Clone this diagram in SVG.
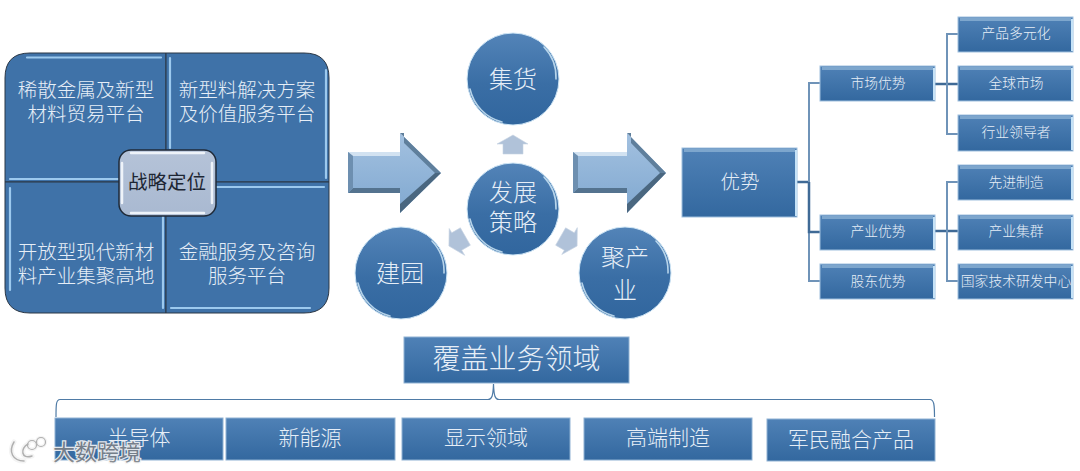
<svg xmlns="http://www.w3.org/2000/svg" width="1080" height="471" viewBox="0 0 1080 471">
<style>
text{font-family:"Noto Sans CJK SC","Noto Sans",sans-serif;font-weight:300;fill:#e6eef7;text-anchor:middle;dominant-baseline:central}
.t14{font-size:13.800px}.t20{font-size:19.500px}.t21{font-size:21px}.t24{font-size:24px}.t28{font-size:28px}
.box{fill:url(#boxGrad);stroke:#9fc0de;stroke-width:1}
.flat{fill:url(#boxGrad);stroke:#8fb2d3;stroke-width:1}
.top{stroke:#7da6cd;stroke-width:3;fill:none}
.side{stroke:#c5e2f7;stroke-width:2;fill:none}
.quad{fill:#3f72a8;stroke:#2a3644;stroke-width:1}
.glow{stroke:#9cc9ee;stroke-width:2.200;fill:none;stroke-linecap:round}
.circ{fill:url(#circGrad);stroke:#cfe6f6;stroke-width:1}
.rim{fill:none;stroke:#d5ecfa;stroke-width:1.600;stroke-linecap:round;opacity:.8}
.link{fill:none;stroke:#6f93b8;stroke-width:2}
.stem{fill:none;stroke:#3f6a96;stroke-width:2.500}
.small{fill:#b0c2d9;stroke:#c7d3e3;stroke-width:.6}
.big{fill:url(#arrowGrad)}
</style>
<defs>
<linearGradient id="boxGrad" x1="0" y1="0" x2="0" y2="1"><stop offset="0" stop-color="#4f81b6"/><stop offset="1" stop-color="#33689f"/></linearGradient>
<linearGradient id="circGrad" x1="0" y1="0" x2="0" y2="1"><stop offset="0" stop-color="#5384b8"/><stop offset=".55" stop-color="#3a6ea5"/><stop offset="1" stop-color="#31669e"/></linearGradient>
<linearGradient id="arrowGrad" x1="0" y1="0" x2="0" y2="1"><stop offset="0" stop-color="#a3c1e0"/><stop offset="1" stop-color="#80a8d0"/></linearGradient>
<linearGradient id="centerGrad" x1="0" y1="0" x2="0" y2="1"><stop offset="0" stop-color="#b5c3d8"/><stop offset="1" stop-color="#a9b9d1"/></linearGradient>
</defs>

<g id="connectors">
<path class="stem" d="M797 182H809"/>
<path class="link" d="M809 182V83H820M809 182V281H820M809 232H820"/>
<path class="stem" d="M809 182V232H820"/>
<path class="stem" d="M935 84H958"/>
<path class="link" d="M947 84V34H958M947 84V134H958"/>
<path class="stem" d="M935 231H958"/>
<path class="link" d="M947 231V182H958M947 231V281H958"/>
<path fill="none" stroke="#4f7ba6" stroke-width="1.200" d="M56 417C56 405 56 399.500 60 399.500H488C492 399.500 493 396 493.500 384C494 396 495 399.500 499 399.500H930C934 399.500 934.500 405 934.500 417"/>
</g>

<g id="strategy-panel">
<path class="quad" d="M166 53H30Q5 53 5 78V182H166Z"/>
<path class="quad" d="M166 53H304Q329 53 329 78V182H166Z"/>
<path class="quad" d="M5 182H166V313H30Q5 313 5 288Z"/>
<path class="quad" d="M329 182H166V313H304Q329 313 329 288Z"/>
<path class="glow" d="M27 57.500H161M170 58V148M326 70V178M10 179H118M217 187H324M10 188V290M163 190V308M171 308H310"/>
<text class="t20" x="86" y="88.500">稀散金属及新型<tspan x="86" dy="23">材料贸易平台</tspan></text>
<text class="t20" x="247" y="88.500">新型料解决方案<tspan x="247" dy="23">及价值服务平台</tspan></text>
<text class="t20" x="86" y="250.500">开放型现代新材<tspan x="86" dy="23">料产业集聚高地</tspan></text>
<text class="t20" x="247" y="250.500">金融服务及咨询<tspan x="247" dy="23">服务平台</tspan></text>
</g>
<g id="strategy-center">
<rect x="119" y="150" width="97" height="66" rx="12" fill="url(#centerGrad)" stroke="#1f2a38" stroke-width="1.500"/>
<path fill="none" stroke="#eef3f9" stroke-width="2.500" stroke-linecap="round" d="M131 153H204M122 163V203M212 163V203M131 213H204"/>
<text x="167" y="180.500" style="font-size:19.500px;fill:#1d2633;font-weight:400">战略定位</text>
</g>

<g id="arrow-left">
<path class="big" d="M348 152H400V133L441 173L400 213V193H348Z"/>
<path fill="#d2e2f1" d="M348 152H400V156H353Z"/>
<path fill="#5f7f9c" d="M400 133L441 173L435 173L404 143V133Z"/>
<path fill="#4a6780" d="M441 173L400 213V204L435 173Z"/>
<path fill="#54738f" d="M348 193H400V188H353Z"/>
<path fill="#6d8fb0" d="M348 152L353 156V188L348 193Z"/>
</g>
<g id="arrow-right">
<path class="big" d="M573 152H627V133L666 173L627 213V193H573Z"/>
<path fill="#d2e2f1" d="M573 152H627V156H578Z"/>
<path fill="#5f7f9c" d="M627 133L666 173L660 173L631 143V133Z"/>
<path fill="#4a6780" d="M666 173L627 213V204L660 173Z"/>
<path fill="#54738f" d="M573 193H627V188H578Z"/>
<path fill="#6d8fb0" d="M573 152L578 156V188L573 193Z"/>
</g>

<g id="small-arrows">
<path class="small" d="M513 135L528 144H523V154H503V144H497Z"/>
<path class="small" d="M513 135L528 144H523V154H503V144H497Z" transform="rotate(-120 513 209)"/>
<path class="small" d="M513 135L528 144H523V154H503V144H497Z" transform="rotate(120 513 209)"/>
</g>

<g id="node-jihuo"><circle class="circ" cx="513" cy="79" r="46"/><path class="rim" d="M470 89A44 44 0 0 0 502 122"/><path class="rim" d="M544 47A44 44 0 0 1 556 79"/><text class="t24" x="513" y="77">集货</text></g>
<g id="node-fazhan"><circle class="circ" cx="513" cy="209" r="46"/><path class="rim" d="M470 219A44 44 0 0 0 502 252"/><path class="rim" d="M544 177A44 44 0 0 1 556 209"/><text class="t24" x="513" y="190">发展<tspan x="513" dy="30">策略</tspan></text></g>
<g id="node-jianyuan"><circle class="circ" cx="401" cy="273" r="46"/><path class="rim" d="M358 283A44 44 0 0 0 390 316"/><path class="rim" d="M432 241A44 44 0 0 1 444 273"/><text class="t24" x="400" y="271">建园</text></g>
<g id="node-juchanye"><circle class="circ" cx="625" cy="273" r="46"/><path class="rim" d="M582 283A44 44 0 0 0 614 316"/><path class="rim" d="M656 241A44 44 0 0 1 668 273"/><text class="t24" x="625" y="255">聚产<tspan x="625" dy="33">业</tspan></text></g>

<g id="node-youshi"><rect class="box" x="682" y="148" width="115" height="69"/><path class="top" d="M684 150.500H795"/><path class="side" d="M796 150V216"/><text class="t20" x="740" y="180.500">优势</text></g>
<g id="node-market"><rect class="box" x="820" y="66" width="115" height="35"/><path class="top" d="M822 68.500H933"/><path class="side" d="M934 68V100"/><text class="t14" x="878" y="82">市场优势</text></g>
<g id="node-industry"><rect class="box" x="820" y="215" width="115" height="35"/><path class="top" d="M822 217.500H933"/><path class="side" d="M934 217V249"/><text class="t14" x="878" y="230">产业优势</text></g>
<g id="node-holder"><rect class="box" x="820" y="264" width="115" height="35"/><path class="top" d="M822 266.500H933"/><path class="side" d="M934 266V298"/><text class="t14" x="878" y="280">股东优势</text></g>
<g id="node-a1"><rect class="box" x="958" y="17" width="115" height="35"/><path class="top" d="M960 19.500H1071"/><path class="side" d="M1072 19V51"/><text class="t14" x="1016" y="32">产品多元化</text></g>
<g id="node-a2"><rect class="box" x="958" y="66" width="115" height="35"/><path class="top" d="M960 68.500H1071"/><path class="side" d="M1072 68V100"/><text class="t14" x="1016" y="82">全球市场</text></g>
<g id="node-a3"><rect class="box" x="958" y="115" width="115" height="36"/><path class="top" d="M960 117.500H1071"/><path class="side" d="M1072 117V150"/><text class="t14" x="1016" y="131">行业领导者</text></g>
<g id="node-b1"><rect class="box" x="958" y="165" width="115" height="35"/><path class="top" d="M960 167.500H1071"/><path class="side" d="M1072 167V199"/><text class="t14" x="1016" y="181">先进制造</text></g>
<g id="node-b2"><rect class="box" x="958" y="215" width="115" height="35"/><path class="top" d="M960 217.500H1071"/><path class="side" d="M1072 217V249"/><text class="t14" x="1016" y="230">产业集群</text></g>
<g id="node-b3"><rect class="box" x="958" y="264" width="115" height="35"/><path class="top" d="M960 266.500H1071"/><path class="side" d="M1072 266V298"/><text class="t14" x="1016" y="280">国家技术研发中心</text></g>

<g id="node-cover"><rect class="flat" x="404" y="337" width="225" height="46"/><text class="t28" x="516.500" y="357">覆盖业务领域</text></g>
<g id="node-c1"><rect class="flat" x="55" y="418" width="168" height="42"/><text class="t21" x="139" y="436">半导体</text></g>
<g id="node-c2"><rect class="flat" x="226" y="418" width="169" height="42"/><text class="t21" x="310" y="436">新能源</text></g>
<g id="node-c3"><rect class="flat" x="402" y="418" width="168" height="42"/><text class="t21" x="486" y="436">显示领域</text></g>
<g id="node-c4"><rect class="flat" x="584" y="418" width="168" height="42"/><text class="t21" x="668" y="436">高端制造</text></g>
<g id="node-c5"><rect class="flat" x="767" y="419" width="168" height="42"/><text class="t21" x="851" y="438">军民融合产品</text></g>

<g id="watermark">
<path fill="none" stroke="#f4f4f4" stroke-width="5" stroke-linecap="round" d="M14 442C8 452 13 461 24 461M28 444C20 448 21 460 32 456"/>
<circle cx="32" cy="445" r="4.500" fill="none" stroke="#f4f4f4" stroke-width="4"/>
<circle cx="41" cy="442" r="4.500" fill="none" stroke="#f4f4f4" stroke-width="3.500"/>
<path fill="none" stroke="#b0b0b0" stroke-width="1.500" stroke-linecap="round" d="M14 442C8 452 13 461 24 461M28 444C20 448 21 460 32 456"/>
<circle cx="32" cy="445" r="4.500" fill="none" stroke="#b0b0b0" stroke-width="1.200"/>
<circle cx="41" cy="442" r="4.500" fill="none" stroke="#b0b0b0" stroke-width="1.200"/>
<text x="97" y="450" style="font-size:22px;font-weight:400;fill:#7b8087;stroke:#f4f4f4;stroke-width:2.500;paint-order:stroke;opacity:.9">大数跨境</text>
</g>
</svg>
